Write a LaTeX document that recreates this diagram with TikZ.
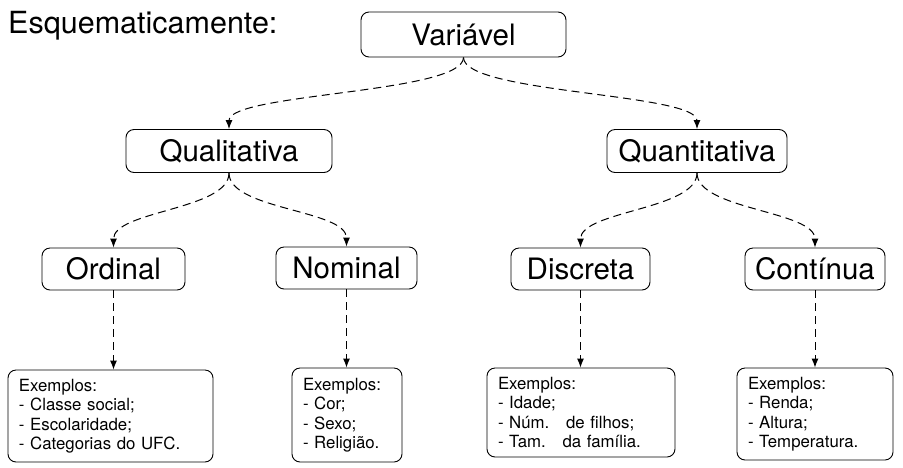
\documentclass[tikz,border=0pt]{standalone}
\usepackage{fontspec}
\setmainfont{TeX Gyre Heros}
\usetikzlibrary{arrows.meta}
\begin{document}
\begin{tikzpicture}[x=1pt,y=-1pt,
 big/.style={draw, rounded corners=8pt, line width=0.9pt, font=\fontsize{29.5}{34}\selectfont, inner sep=0pt, minimum height=43pt},
 exbox/.style={draw, rounded corners=8pt, line width=0.9pt, font=\fontsize{16.8}{19.5}\selectfont, align=left, inner xsep=11pt, inner ysep=0pt},
 link/.style={dash pattern=on 8pt off 5pt, line width=1pt, -{Latex[length=9pt,width=7pt]}}]
\useasboundingbox (0,0) rectangle (903,467);
\node[anchor=base west, font=\fontsize{30.5}{34}\selectfont, inner sep=0pt] (title) at (8,33) {Esquematicamente:};
\node[big, minimum width=205pt, minimum height=45pt] (var) at (463.5,34.5) {Variável};
\node[big, minimum width=206pt] (qual) at (229,151) {Qualitativa};
\node[big, minimum width=180pt] (quan) at (697,151) {Quantitativa};
\node[big, minimum width=143pt, minimum height=42pt] (ord) at (113.5,269) {Ordinal};
\node[big, minimum width=141pt, minimum height=42pt] (nom) at (346.5,268) {Nominal};
\node[big, minimum width=139pt, minimum height=42pt] (dis) at (580.5,269) {Discreta};
\node[big, minimum width=140pt, minimum height=42pt] (con) at (815,269) {Contínua};
\node[exbox, text width=183pt, minimum height=92pt] (ordex) at (110.5,416) {Exemplos:\\- Classe social;\\- Escolaridade;\\- Categorias do UFC.};
\node[exbox, text width=88pt, minimum height=94pt] (nomex) at (347,415) {Exemplos:\\- Cor;\\- Sexo;\\- Religião.};
\node[exbox, text width=166pt, minimum height=89pt] (disex) at (581,412.5) {Exemplos:\\- Idade;\\- Núm.\ \ \ de filhos;\\- Tam.\ \ \ da família.};
\node[exbox, text width=134pt, minimum height=92pt] (conex) at (815,414) {Exemplos:\\- Renda;\\- Altura;\\- Temperatura.};
\draw[link] (var.south) .. controls +(0,36) and +(0,-36) .. (qual.north);
\draw[link] (var.south) .. controls +(0,36) and +(0,-36) .. (quan.north);
\draw[link] (qual.south) .. controls +(0,37) and +(0,-37) .. (ord.north);
\draw[link] (qual.south) .. controls +(0,37) and +(0,-37) .. (nom.north);
\draw[link] (quan.south) .. controls +(0,37) and +(0,-37) .. (dis.north);
\draw[link] (quan.south) .. controls +(0,37) and +(0,-37) .. (con.north);
\draw[link] (ord.south) -- (ord.south |- ordex.north);
\draw[link] (nom.south) -- (nom.south |- nomex.north);
\draw[link] (dis.south) -- (dis.south |- disex.north);
\draw[link] (con.south) -- (con.south |- conex.north);
\end{tikzpicture}
\end{document}
